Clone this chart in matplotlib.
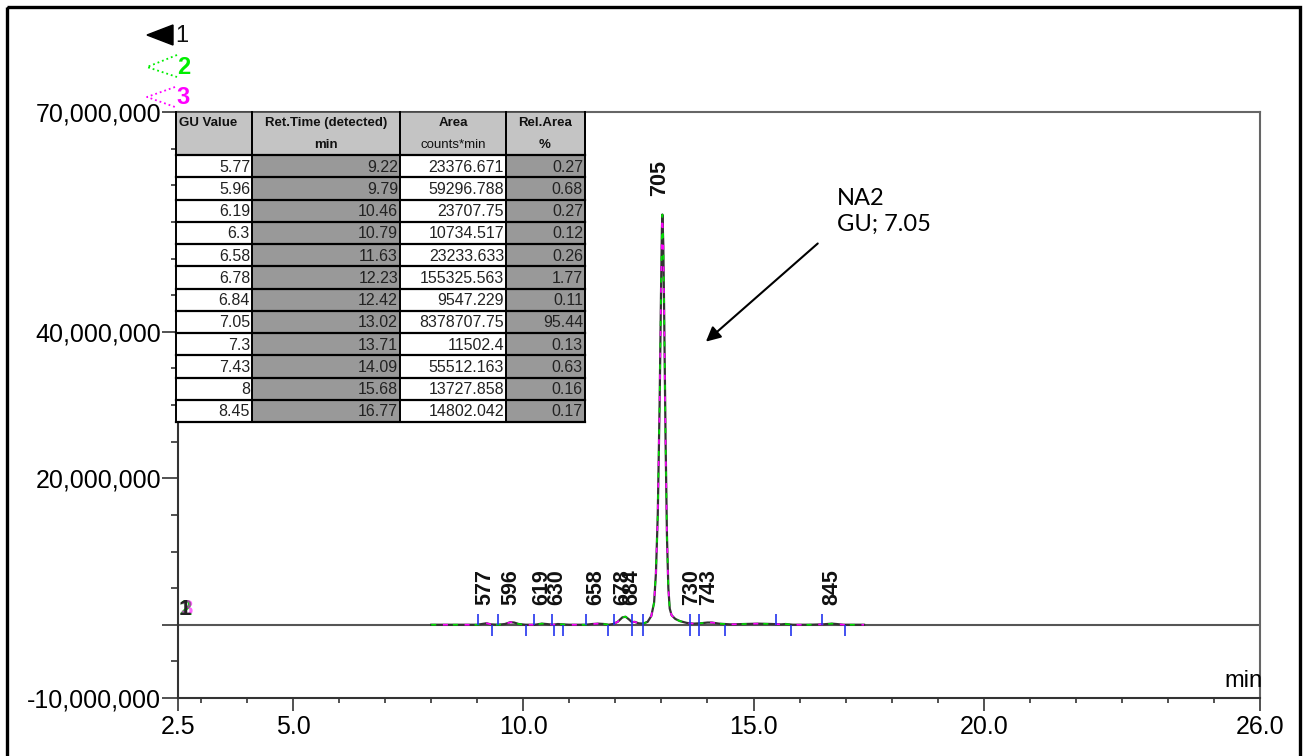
import numpy as np
import matplotlib.pyplot as plt
from matplotlib.patches import Rectangle, Polygon

# peak table
gu_values = [5.77, 5.96, 6.19, 6.3, 6.58, 6.78, 6.84, 7.05, 7.3, 7.43, 8, 8.45]
ret_times = [9.22, 9.79, 10.46, 10.79, 11.63, 12.23, 12.42, 13.02, 13.71, 14.09, 15.68, 16.77]
areas = [23376.671, 59296.788, 23707.75, 10734.517, 23233.633, 155325.563,
         9547.229, 8378707.75, 11502.4, 55512.163, 13727.858, 14802.042]
rel_areas = [0.27, 0.68, 0.27, 0.12, 0.26, 1.77, 0.11, 95.44, 0.13, 0.63, 0.16, 0.17]
peak_labels = ['577', '596', '619', '630', '658', '678', '684', '705', '730', '743', '', '845']
peak_heights = [0.2, 0.35, 0.15, 0.1, 0.15, 1.1, 0.4, 56.0, 0.3, 0.3, 0.1, 0.15]  # millions

# integration marks (min)
peak_start = [9.01, 9.46, 10.24, 10.63, 11.37, 11.98, 12.35, 12.59, 13.63, 13.82, 15.49, 16.49]
peak_end = [9.33, 10.05, 10.66, 10.87, 11.85, 12.35, 12.59, 13.63, 13.82, 14.39, 15.82, 16.99]

# signal (min, millions of counts)
trace_t = [8.0, 9.0, 9.1, 9.2, 9.3, 9.45, 9.6, 9.72, 9.8, 9.9, 10.05, 10.25, 10.4, 10.5,
           10.65, 10.75, 10.85, 11.0, 11.35, 11.5, 11.62, 11.75, 11.85, 11.95, 12.05, 12.15,
           12.22, 12.3, 12.36, 12.42, 12.5, 12.6, 12.7, 12.78, 12.84, 12.88, 12.92, 12.96,
           12.99, 13.01, 13.02, 13.04, 13.06, 13.09, 13.12, 13.15, 13.18, 13.22, 13.3, 13.4,
           13.55, 13.7, 13.85, 14.0, 14.1, 14.25, 14.5, 14.8, 15.1, 15.4, 15.6, 15.7, 15.85,
           16.2, 16.5, 16.7, 16.8, 16.95, 17.4]
trace_y = [0, 0, 0.1, 0.2, 0.05, 0, 0.1, 0.35, 0.3, 0.1, 0, 0, 0.15, 0.1,
           0, 0.1, 0.05, 0, 0, 0.1, 0.15, 0.1, 0, 0.1, 0.4, 1.0,
           1.1, 0.7, 0.35, 0.4, 0.2, 0.15, 0.4, 1.2, 3.0, 7.0, 15.0, 30.0,
           45.0, 54.0, 56.0, 52.0, 42.0, 25.0, 12.0, 5.0, 2.2, 1.3, 0.8, 0.5,
           0.25, 0.15, 0.2, 0.3, 0.3, 0.15, 0.05, 0.1, 0.15, 0.1, 0.05, 0.1, 0,
           0, 0.05, 0.15, 0.1, 0, 0]

x_major = [2.5, 5.0, 10.0, 15.0, 20.0, 26.0]
y_major = [-10e6, 0, 20e6, 40e6, 70e6]
y_labels = ['-10,000,000', '', '20,000,000', '40,000,000', '70,000,000']

plt.rcParams['font.family'] = ['Liberation Sans', 'DejaVu Sans']

W, H = 1305, 756
fig = plt.figure(figsize=(W / 100, H / 100), dpi=100)
ax = fig.add_axes([178 / W, 1 - 698 / H, (1260 - 178) / W, (698 - 112) / H])

t = np.array(trace_t)
y = np.array(trace_y) * 1e6
ax.axhline(0, color='#555555', lw=1.5, zorder=1)
ax.plot(t, y, color='#333333', lw=1.6, zorder=3)
ax.plot(t, y, color='#00e000', lw=1.2, ls=(0, (3, 10)), zorder=4)
ax.plot(t, y, color='#ff00ff', lw=1.2, ls=(6, (3, 10)), zorder=4)

ax.vlines(peak_start, 0, 1.4e6, color='#2233ee', lw=1.2, zorder=5)
ax.vlines(peak_end, -1.6e6, 0, color='#2233ee', lw=1.2, zorder=5)

narrow = ['Liberation Sans Narrow', 'Liberation Sans', 'DejaVu Sans']
for rt, lab, h in zip(ret_times, peak_labels, peak_heights):
    if not lab:
        continue
    yy = h * 1e6 + 2.5e6 if h > 5 else 2.7e6
    ax.text(rt - 0.06, yy, lab, rotation=90, ha='center', va='bottom',
            fontsize=15.5, fontweight='bold', family=narrow, color='#111111')

ax.set_xlim(2.5, 26.0)
ax.set_ylim(-10e6, 70e6)
ax.set_xticks(x_major)
ax.set_xticklabels(['%.1f' % v for v in x_major])
ax.set_xticks(np.arange(3, 26, 1.0), minor=True)
ax.set_yticks(y_major)
ax.set_yticklabels(y_labels)
ax.set_yticks(np.arange(-5e6, 70e6, 5e6), minor=True)
ax.tick_params(axis='x', which='major', length=9.5, width=1.2, labelsize=18, pad=3, color='#333333')
ax.tick_params(axis='x', which='minor', length=3.8, width=1.2, color='#333333')
ax.tick_params(axis='y', which='major', length=11.5, width=1.2, labelsize=18, pad=0.5, color='#333333')
ax.tick_params(axis='y', which='minor', length=5, width=1.2, color='#333333')
for s in ['left', 'bottom']:
    ax.spines[s].set_color('#333333')
    ax.spines[s].set_linewidth(1.5)
for s in ['top', 'right']:
    ax.spines[s].set_color('#666666')
    ax.spines[s].set_linewidth(1.5)

ax.text(26.05, -9.2e6, 'min', ha='right', va='bottom', fontsize=17)
ax.text(2.52, 0.6e6, '2', color='#00dd00', fontsize=16, fontweight='bold', va='bottom')
ax.text(2.55, 0.6e6, '3', color='#ff00ff', fontsize=16, fontweight='bold', va='bottom', alpha=0.6)
ax.text(2.52, 0.6e6, '1', color='#222222', fontsize=16, fontweight='bold', va='bottom')

ax.annotate('', xy=(13.92, 38.4e6), xytext=(16.44, 52.3e6),
            arrowprops=dict(arrowstyle='-|>', color='black', lw=1.5, mutation_scale=22))
ax.text(16.81, 59.6e6, 'NA2\nGU; 7.05', ha='left', va='top', fontsize=17,
        family=['Lato', 'DejaVu Sans'], linespacing=1.3)

# overlay in pixel coordinates: border, channel legend, peak table
ov = fig.add_axes([0, 0, 1, 1], zorder=10)
ov.set_xlim(0, W)
ov.set_ylim(H, 0)
ov.set_facecolor('none')
ov.axis('off')
ov.add_patch(Rectangle((7, 7), 1293, 760, fill=False, ec='black', lw=2.4))

ov.add_patch(Polygon([(147, 35), (173, 25), (173, 45)], closed=True, fc='black', ec='black'))
ov.text(175, 36, '1', fontsize=17, va='center', ha='left', color='#111111')
ov.plot([177, 147, 177], [55, 67, 77], color='#00ee00', lw=1.3, ls=':')
ov.text(177, 67, '2', fontsize=17, fontweight='bold', va='center', ha='left', color='#00ee00')
ov.plot([175, 147, 175], [87, 97, 107], color='#ff00ff', lw=1.3, ls=':')
ov.text(176, 97, '3', fontsize=17, fontweight='bold', va='center', ha='left', color='#ff00ff')

col_edges = [176, 252, 400, 506, 585]
head_top, head_bot = 112, 155
row_h = (422 - head_bot) / len(gu_values)
body_fill = ['white', '#999999', 'white', '#999999']
for c in range(4):
    x0, x1 = col_edges[c], col_edges[c + 1]
    ov.add_patch(Rectangle((x0, head_top), x1 - x0, head_bot - head_top,
                           fc='#c4c4c4', ec='#444444', lw=1.2))
    for r in range(len(gu_values)):
        ov.add_patch(Rectangle((x0, head_bot + r * row_h), x1 - x0, row_h,
                               fc=body_fill[c], ec='none'))
for r in range(len(gu_values) + 1):
    yy = head_bot + r * row_h
    ov.plot([col_edges[0], col_edges[-1]], [yy, yy], color='black', lw=1.6)
for xx in col_edges:
    ov.plot([xx, xx], [head_top, 422], color='black', lw=1.4)

hs = dict(fontsize=9.5, fontweight='bold', va='center', color='#111111')
ov.text(179, 123, 'GU Value', ha='left', **hs)
ov.text(326, 123, 'Ret.Time (detected)', ha='center', **hs)
ov.text(326, 145, 'min', ha='center', **hs)
ov.text(453, 123, 'Area', ha='center', **hs)
ov.text(453, 145, 'counts*min', ha='center', fontsize=9.5, va='center', color='#111111')
ov.text(545, 123, 'Rel.Area', ha='center', **hs)
ov.text(545, 145, '%', ha='center', **hs)

cols = [gu_values, ret_times, areas, rel_areas]
for c, vals in enumerate(cols):
    for r, v in enumerate(vals):
        ov.text(col_edges[c + 1] - 2, head_bot + (r + 0.5) * row_h + 1, str(v),
                ha='right', va='center', fontsize=11.5, color='#222222')

fig.savefig('out.png', dpi=100)
